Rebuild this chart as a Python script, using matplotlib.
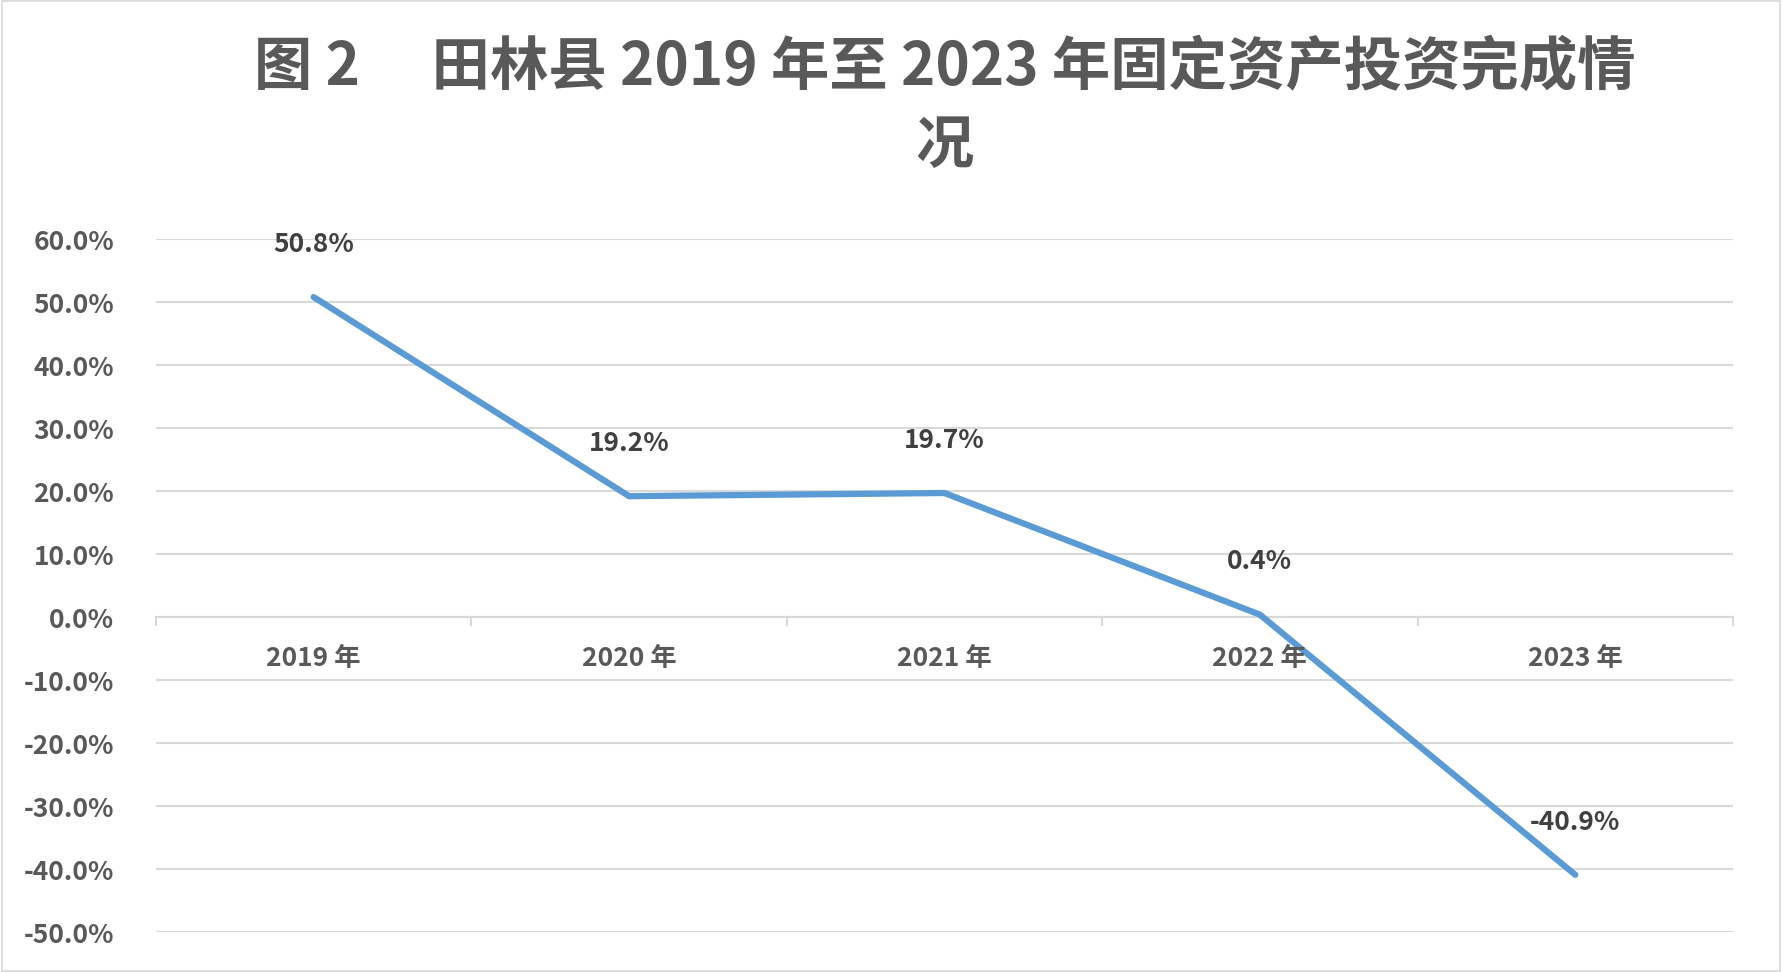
import matplotlib
matplotlib.use("Agg")
import matplotlib.pyplot as plt

plt.rcParams['font.family'] = ['Noto Sans CJK SC', 'DejaVu Sans']

categories = ["2019 年", "2020 年", "2021 年", "2022 年", "2023 年"]
values = [50.8, 19.2, 19.7, 0.4, -40.9]
labels = ["50.8%", "19.2%", "19.7%", "0.4%", "-40.9%"]
yticks = [60, 50, 40, 30, 20, 10, 0, -10, -20, -30, -40, -50]

gray = "#595959"
fig = plt.figure(figsize=(17.82, 9.72), dpi=100)
fig.patches.append(plt.Rectangle((0.001, 0.001), 0.998, 0.998, transform=fig.transFigure,
                                 fill=False, edgecolor="#D9D9D9", lw=1.2))
ax = fig.add_axes([0.0875, 0.041, 0.885, 0.713])
x = list(range(len(categories)))
ax.plot(x, values, color="#5B9BD5", lw=4.5, solid_capstyle="round", zorder=3)
for xi, v, l in zip(x, values, labels):
    ax.annotate(l, (xi, v), xytext=(0, 38), textcoords="offset points", ha="center",
                va="center", fontsize=19, fontweight="bold", color="#404040", zorder=4)
ax.set_xlim(-0.5, 4.5)
ax.set_ylim(-50, 60)
ax.set_yticks(yticks)
ax.set_yticklabels([f"{t:.1f}%" for t in yticks], fontsize=19, fontweight="bold", color=gray)
ax.tick_params(axis="y", length=0, pad=30)
ax.grid(axis="y", color="#D9D9D9", lw=1.5)
ax.set_axisbelow(True)
for s in ax.spines.values():
    s.set_visible(False)
ax.set_xticks([])
ax.axhline(0, color="#D9D9D9", lw=1.5, zorder=2)
for b in [-0.5, 0.5, 1.5, 2.5, 3.5, 4.5]:
    ax.plot([b, b], [0, -1.3], color="#D9D9D9", lw=1.5, clip_on=False)
for xi, c in zip(x, categories):
    ax.text(xi, -6.5, c, ha="center", va="center", fontsize=19, fontweight="bold", color=gray)
fig.text(0.53, 0.93, "图 2　 田林县 2019 年至 2023 年固定资产投资完成情", ha="center", va="center",
         fontsize=42, fontweight="bold", color=gray)
fig.text(0.53, 0.85, "况", ha="center", va="center", fontsize=42, fontweight="bold", color=gray)
fig.savefig("out.png", dpi=100)
